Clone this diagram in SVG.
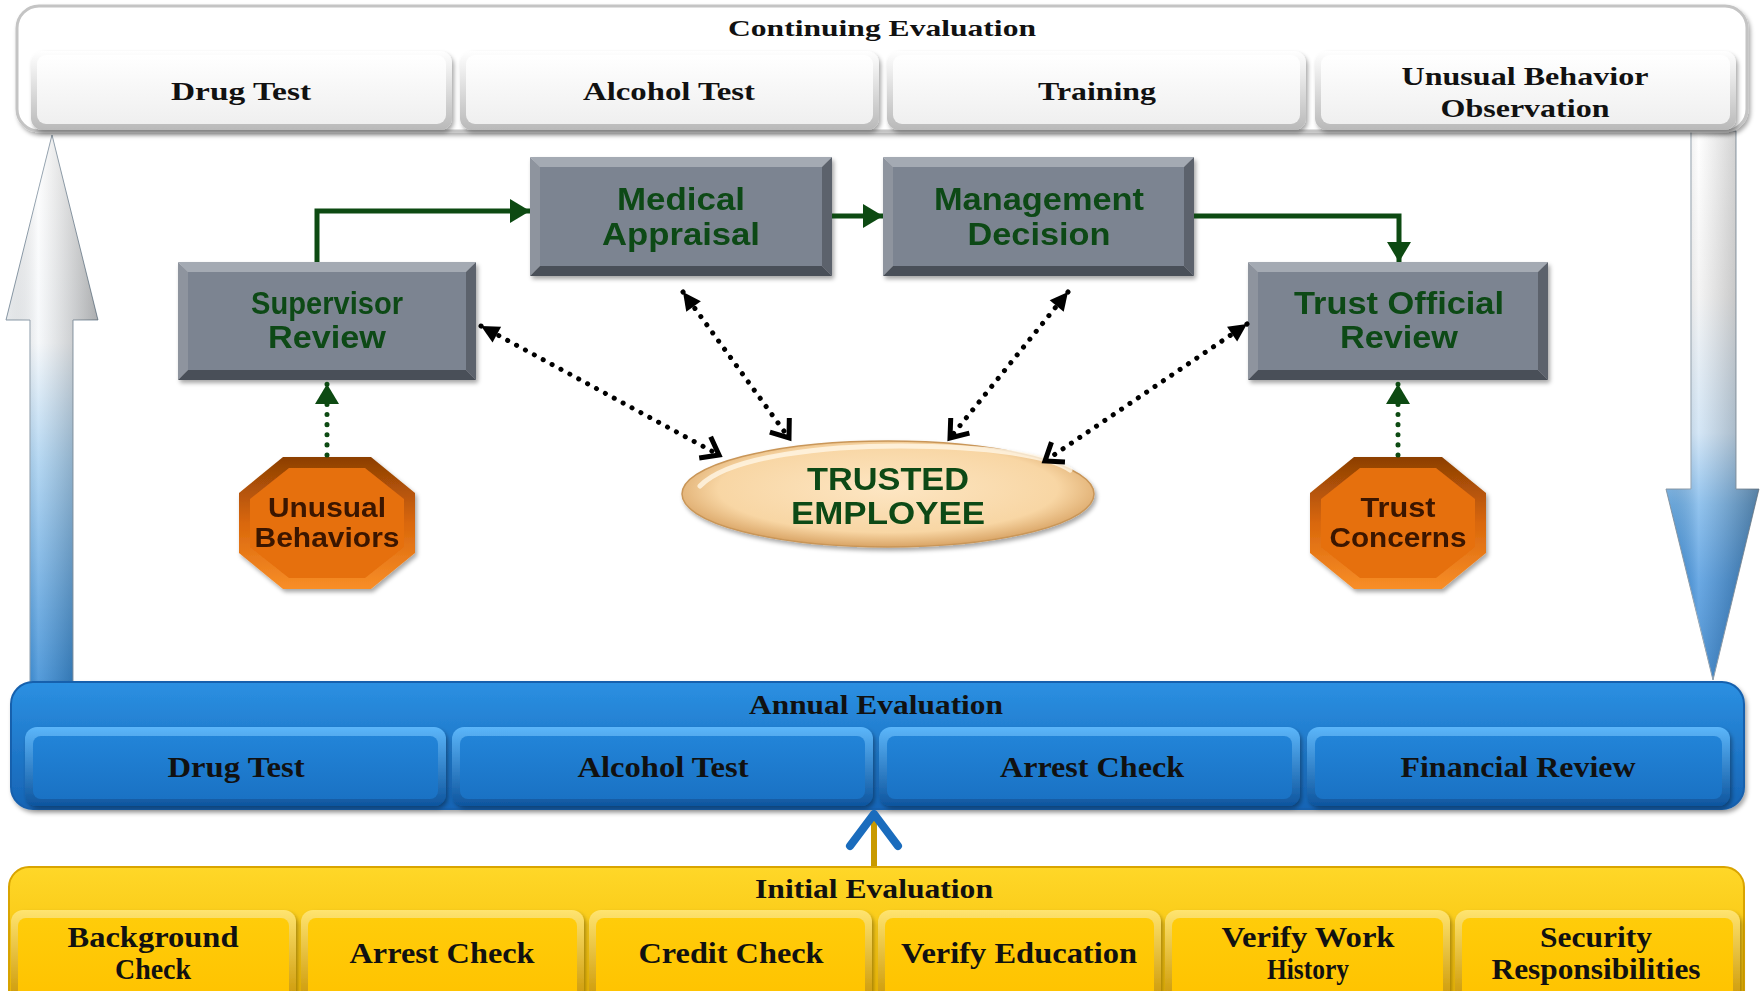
<svg xmlns="http://www.w3.org/2000/svg" width="1762" height="991" viewBox="0 0 1762 991">
  <style>
    .serif { font-family: "Liberation Serif", "Times New Roman", serif; font-weight: bold; fill: #111; text-anchor: middle; dominant-baseline: central; }
    .node { font-family: "Liberation Sans", Arial, sans-serif; font-weight: bold; fill: #0d4a14; text-anchor: middle; dominant-baseline: central; font-size: 31px; }
    .oct { font-family: "Liberation Sans", Arial, sans-serif; font-weight: bold; fill: #3a1500; text-anchor: middle; dominant-baseline: central; font-size: 27px; }
    .flow { fill: none; stroke: #0d4a12; stroke-width: 5; }
    .gdots { fill: none; stroke: #0d4a12; stroke-width: 5; stroke-dasharray: 0.1 10; stroke-linecap: round; }
    .kdots { fill: none; stroke: #000; stroke-width: 5; stroke-dasharray: 0.1 10; stroke-linecap: round; }
  </style>
  <defs>
    <filter id="shadow" x="-10%" y="-10%" width="120%" height="130%">
      <feDropShadow dx="2" dy="3" stdDeviation="2" flood-color="#000" flood-opacity="0.35"/>
    </filter>
    <linearGradient id="gWhiteFrame" x1="0" y1="0" x2="0" y2="1">
      <stop offset="0" stop-color="#ffffff"/><stop offset="1" stop-color="#b9b9b9"/>
    </linearGradient>
    <linearGradient id="gWhiteFace" x1="0" y1="0" x2="0" y2="1">
      <stop offset="0" stop-color="#ffffff"/><stop offset="1" stop-color="#efefef"/>
    </linearGradient>
    <linearGradient id="gBlueBand" x1="0" y1="0" x2="0" y2="1">
      <stop offset="0" stop-color="#2b90e2"/><stop offset="1" stop-color="#1664b5"/>
    </linearGradient>
    <linearGradient id="gBlueFrame" x1="0" y1="0" x2="0" y2="1">
      <stop offset="0" stop-color="#5cb6fa"/><stop offset="1" stop-color="#0e559e"/>
    </linearGradient>
    <linearGradient id="gBlueFace" x1="0" y1="0" x2="0" y2="1">
      <stop offset="0" stop-color="#2284d8"/><stop offset="1" stop-color="#1a72c4"/>
    </linearGradient>
    <linearGradient id="gYellowBand" x1="0" y1="0" x2="0" y2="1">
      <stop offset="0" stop-color="#ffd728"/><stop offset="1" stop-color="#f2b900"/>
    </linearGradient>
    <linearGradient id="gYellowFrame" x1="0" y1="0" x2="0" y2="1">
      <stop offset="0" stop-color="#ffe470"/><stop offset="1" stop-color="#c99400"/>
    </linearGradient>
    <linearGradient id="gYellowFace" x1="0" y1="0" x2="0" y2="1">
      <stop offset="0" stop-color="#ffcc0a"/><stop offset="1" stop-color="#ffc300"/>
    </linearGradient>
    <linearGradient id="gUpArrow" gradientUnits="userSpaceOnUse" x1="0" y1="135" x2="0" y2="682">
      <stop offset="0" stop-color="#ffffff"/><stop offset="0.38" stop-color="#f3f6f9"/>
      <stop offset="0.6" stop-color="#9ccaee"/><stop offset="1" stop-color="#1c7bcf"/>
    </linearGradient>
    <linearGradient id="gDownArrow" gradientUnits="userSpaceOnUse" x1="0" y1="131" x2="0" y2="680">
      <stop offset="0" stop-color="#ffffff"/><stop offset="0.3" stop-color="#f0f0f0"/>
      <stop offset="0.55" stop-color="#c6def3"/><stop offset="0.68" stop-color="#6fb0e8"/>
      <stop offset="0.82" stop-color="#3a8ddb"/><stop offset="1" stop-color="#176fc2"/>
    </linearGradient>
    <linearGradient id="gSideShade" x1="0" y1="0" x2="1" y2="0">
      <stop offset="0" stop-color="#000" stop-opacity="0.05"/>
      <stop offset="0.35" stop-color="#fff" stop-opacity="0.25"/>
      <stop offset="1" stop-color="#000" stop-opacity="0.3"/>
    </linearGradient>
    <linearGradient id="gOctFrame" x1="0" y1="0" x2="0" y2="1">
      <stop offset="0" stop-color="#8c3f04"/><stop offset="0.5" stop-color="#d9670b"/>
      <stop offset="1" stop-color="#f88e28"/>
    </linearGradient>
    <radialGradient id="gEllipse" cx="0.5" cy="0.45" r="0.55">
      <stop offset="0" stop-color="#fde6c3"/><stop offset="0.75" stop-color="#f8d6a4"/>
      <stop offset="1" stop-color="#d9a465"/>
    </radialGradient>
    <marker id="triG" viewBox="-20 -12 22 24" refX="0" refY="0" markerWidth="22" markerHeight="24" markerUnits="userSpaceOnUse" orient="auto" overflow="visible">
      <path d="M-20,-12 L0,0 L-20,12 Z" fill="#0d4a12"/>
    </marker>
    <marker id="triK" viewBox="-20 -10 22 20" refX="0" refY="0" markerWidth="22" markerHeight="20" markerUnits="userSpaceOnUse" orient="auto-start-reverse" overflow="visible">
      <path d="M-18,-9 L0,0 L-18,9 Z" fill="#000"/>
    </marker>
    <marker id="chevK" viewBox="-20 -14 22 28" refX="0" refY="0" markerWidth="22" markerHeight="28" markerUnits="userSpaceOnUse" orient="auto" overflow="visible">
      <path d="M-16,-12 L0,0 L-16,12" fill="none" stroke="#000" stroke-width="5"/>
    </marker>
  </defs>

  <rect x="0" y="0" width="1762" height="991" fill="#ffffff"/>

  <!-- big cycle arrows at the sides -->
  <g id="cycle-up">
    <path d="M30,682 V320 H6 L52,135 L98,320 H73 V682 Z" fill="url(#gUpArrow)" stroke="#8a9aa8" stroke-width="1"/>
    <path d="M30,682 V320 H6 L52,135 L98,320 H73 V682 Z" fill="url(#gSideShade)"/>
  </g>
  <g id="cycle-down">
    <path d="M1691,131 V489 H1666 L1713,680 L1759,489 H1736 V131 Z" fill="url(#gDownArrow)" stroke="#8a9aa8" stroke-width="1"/>
    <path d="M1691,131 V489 H1666 L1713,680 L1759,489 H1736 V131 Z" fill="url(#gSideShade)"/>
  </g>

  <!-- Continuing Evaluation -->
  <g id="continuing">
    <rect x="17" y="6" width="1730" height="125" rx="22" fill="#ffffff" stroke="#c4c4c4" stroke-width="3" filter="url(#shadow)"/>
    <text class="serif" x="882" y="28" font-size="23" textLength="308" lengthAdjust="spacingAndGlyphs">Continuing Evaluation</text>
    <g id="ce-drug">
      <rect x="31" y="51" width="421" height="79" rx="12" fill="url(#gWhiteFrame)" filter="url(#shadow)"/>
      <rect x="37" y="55" width="409" height="69" rx="9" fill="url(#gWhiteFace)"/>
      <text class="serif" x="241" y="91" font-size="25" textLength="140" lengthAdjust="spacingAndGlyphs">Drug Test</text>
    </g>
    <g id="ce-alcohol">
      <rect x="460" y="51" width="419" height="79" rx="12" fill="url(#gWhiteFrame)" filter="url(#shadow)"/>
      <rect x="466" y="55" width="407" height="69" rx="9" fill="url(#gWhiteFace)"/>
      <text class="serif" x="669" y="91" font-size="25" textLength="172" lengthAdjust="spacingAndGlyphs">Alcohol Test</text>
    </g>
    <g id="ce-training">
      <rect x="887" y="51" width="419" height="79" rx="12" fill="url(#gWhiteFrame)" filter="url(#shadow)"/>
      <rect x="893" y="55" width="407" height="69" rx="9" fill="url(#gWhiteFace)"/>
      <text class="serif" x="1097" y="91" font-size="25" textLength="118" lengthAdjust="spacingAndGlyphs">Training</text>
    </g>
    <g id="ce-behavior">
      <rect x="1315" y="51" width="421" height="79" rx="12" fill="url(#gWhiteFrame)" filter="url(#shadow)"/>
      <rect x="1321" y="55" width="409" height="69" rx="9" fill="url(#gWhiteFace)"/>
      <text class="serif" x="1525" y="76" font-size="25" textLength="247" lengthAdjust="spacingAndGlyphs">Unusual Behavior</text>
      <text class="serif" x="1525" y="108" font-size="25" textLength="169" lengthAdjust="spacingAndGlyphs">Observation</text>
    </g>
  </g>

  <!-- Annual Evaluation -->
  <g id="annual">
    <rect x="11" y="682" width="1733" height="127" rx="22" fill="url(#gBlueBand)" stroke="#1560ad" stroke-width="2" filter="url(#shadow)"/>
    <text class="serif" x="876" y="705" font-size="27" textLength="254" lengthAdjust="spacingAndGlyphs">Annual Evaluation</text>
    <g id="ae-drug">
      <rect x="25" y="727" width="421" height="79" rx="12" fill="url(#gBlueFrame)" filter="url(#shadow)"/>
      <rect x="33" y="736" width="405" height="63" rx="8" fill="url(#gBlueFace)"/>
      <text class="serif" x="236" y="766" font-size="30" textLength="137" lengthAdjust="spacingAndGlyphs">Drug Test</text>
    </g>
    <g id="ae-alcohol">
      <rect x="452" y="727" width="421" height="79" rx="12" fill="url(#gBlueFrame)" filter="url(#shadow)"/>
      <rect x="460" y="736" width="405" height="63" rx="8" fill="url(#gBlueFace)"/>
      <text class="serif" x="663" y="766" font-size="30" textLength="171" lengthAdjust="spacingAndGlyphs">Alcohol Test</text>
    </g>
    <g id="ae-arrest">
      <rect x="879" y="727" width="421" height="79" rx="12" fill="url(#gBlueFrame)" filter="url(#shadow)"/>
      <rect x="887" y="736" width="405" height="63" rx="8" fill="url(#gBlueFace)"/>
      <text class="serif" x="1092" y="766" font-size="30" textLength="184" lengthAdjust="spacingAndGlyphs">Arrest Check</text>
    </g>
    <g id="ae-financial">
      <rect x="1307" y="727" width="423" height="79" rx="12" fill="url(#gBlueFrame)" filter="url(#shadow)"/>
      <rect x="1315" y="736" width="407" height="63" rx="8" fill="url(#gBlueFace)"/>
      <text class="serif" x="1518" y="766" font-size="30" textLength="235" lengthAdjust="spacingAndGlyphs">Financial Review</text>
    </g>
  </g>

  <!-- Initial Evaluation -->
  <g id="initial">
    <rect x="9" y="867" width="1735" height="150" rx="20" fill="url(#gYellowBand)" stroke="#d9a400" stroke-width="2"/>
    <text class="serif" x="874" y="889" font-size="27" textLength="238" lengthAdjust="spacingAndGlyphs">Initial Evaluation</text>
    <g id="ie-background">
      <rect x="11" y="910" width="285" height="95" rx="12" fill="url(#gYellowFrame)" filter="url(#shadow)"/>
      <rect x="18" y="918" width="271" height="80" rx="8" fill="url(#gYellowFace)"/>
      <text class="serif" x="153" y="936" font-size="30" textLength="171" lengthAdjust="spacingAndGlyphs">Background</text>
      <text class="serif" x="153" y="968" font-size="30" textLength="76" lengthAdjust="spacingAndGlyphs">Check</text>
    </g>
    <g id="ie-arrest">
      <rect x="301" y="910" width="283" height="95" rx="12" fill="url(#gYellowFrame)" filter="url(#shadow)"/>
      <rect x="308" y="918" width="269" height="80" rx="8" fill="url(#gYellowFace)"/>
      <text class="serif" x="442" y="952" font-size="30" textLength="185" lengthAdjust="spacingAndGlyphs">Arrest Check</text>
    </g>
    <g id="ie-credit">
      <rect x="589" y="910" width="283" height="95" rx="12" fill="url(#gYellowFrame)" filter="url(#shadow)"/>
      <rect x="596" y="918" width="269" height="80" rx="8" fill="url(#gYellowFace)"/>
      <text class="serif" x="731" y="952" font-size="30" textLength="185" lengthAdjust="spacingAndGlyphs">Credit Check</text>
    </g>
    <g id="ie-education">
      <rect x="878" y="910" width="283" height="95" rx="12" fill="url(#gYellowFrame)" filter="url(#shadow)"/>
      <rect x="885" y="918" width="269" height="80" rx="8" fill="url(#gYellowFace)"/>
      <text class="serif" x="1019" y="952" font-size="30" textLength="236" lengthAdjust="spacingAndGlyphs">Verify Education</text>
    </g>
    <g id="ie-work">
      <rect x="1165" y="910" width="285" height="95" rx="12" fill="url(#gYellowFrame)" filter="url(#shadow)"/>
      <rect x="1172" y="918" width="271" height="80" rx="8" fill="url(#gYellowFace)"/>
      <text class="serif" x="1308" y="936" font-size="30" textLength="173" lengthAdjust="spacingAndGlyphs">Verify Work</text>
      <text class="serif" x="1308" y="968" font-size="30" textLength="82" lengthAdjust="spacingAndGlyphs">History</text>
    </g>
    <g id="ie-security">
      <rect x="1455" y="910" width="285" height="95" rx="12" fill="url(#gYellowFrame)" filter="url(#shadow)"/>
      <rect x="1462" y="918" width="271" height="80" rx="8" fill="url(#gYellowFace)"/>
      <text class="serif" x="1596" y="936" font-size="30" textLength="112" lengthAdjust="spacingAndGlyphs">Security</text>
      <text class="serif" x="1596" y="968" font-size="30" textLength="209" lengthAdjust="spacingAndGlyphs">Responsibilities</text>
    </g>
  </g>

  <!-- small arrow from Initial up to Annual -->
  <g id="initial-to-annual">
    <line x1="874" y1="866" x2="874" y2="820" stroke="#c99a00" stroke-width="6"/>
    <path d="M850,846 L874,814 L898,846" fill="none" stroke="#1a6cbd" stroke-width="8" stroke-linecap="round" stroke-linejoin="round"/>
  </g>

  <!-- process boxes -->
  <g id="supervisor-review" filter="url(#shadow)">
    <polygon points="178,262 476,262 466,272 188,272" fill="#a4aab3"/>
    <polygon points="178,262 188,272 188,370 178,380" fill="#8e949e"/>
    <polygon points="476,262 476,380 466,370 466,272" fill="#5c626c"/>
    <polygon points="178,380 188,370 466,370 476,380" fill="#4a4f58"/>
    <rect x="188" y="272" width="278" height="98" fill="#7c8491"/>
    <text class="node" x="327" y="303" textLength="152" lengthAdjust="spacingAndGlyphs">Supervisor</text>
    <text class="node" x="327" y="337" textLength="118" lengthAdjust="spacingAndGlyphs">Review</text>
  </g>
  <g id="medical-appraisal" filter="url(#shadow)">
    <polygon points="530,157 832,157 822,167 540,167" fill="#a4aab3"/>
    <polygon points="530,157 540,167 540,266 530,276" fill="#8e949e"/>
    <polygon points="832,157 832,276 822,266 822,167" fill="#5c626c"/>
    <polygon points="530,276 540,266 822,266 832,276" fill="#4a4f58"/>
    <rect x="540" y="167" width="282" height="99" fill="#7c8491"/>
    <text class="node" x="681" y="199" textLength="128" lengthAdjust="spacingAndGlyphs">Medical</text>
    <text class="node" x="681" y="234" textLength="158" lengthAdjust="spacingAndGlyphs">Appraisal</text>
  </g>
  <g id="management-decision" filter="url(#shadow)">
    <polygon points="883,157 1194,157 1184,167 893,167" fill="#a4aab3"/>
    <polygon points="883,157 893,167 893,266 883,276" fill="#8e949e"/>
    <polygon points="1194,157 1194,276 1184,266 1184,167" fill="#5c626c"/>
    <polygon points="883,276 893,266 1184,266 1194,276" fill="#4a4f58"/>
    <rect x="893" y="167" width="291" height="99" fill="#7c8491"/>
    <text class="node" x="1039" y="199" textLength="210" lengthAdjust="spacingAndGlyphs">Management</text>
    <text class="node" x="1039" y="234" textLength="143" lengthAdjust="spacingAndGlyphs">Decision</text>
  </g>
  <g id="trust-official-review" filter="url(#shadow)">
    <polygon points="1248,262 1548,262 1538,272 1258,272" fill="#a4aab3"/>
    <polygon points="1248,262 1258,272 1258,370 1248,380" fill="#8e949e"/>
    <polygon points="1548,262 1548,380 1538,370 1538,272" fill="#5c626c"/>
    <polygon points="1248,380 1258,370 1538,370 1548,380" fill="#4a4f58"/>
    <rect x="1258" y="272" width="280" height="98" fill="#7c8491"/>
    <text class="node" x="1399" y="303" textLength="210" lengthAdjust="spacingAndGlyphs">Trust Official</text>
    <text class="node" x="1399" y="337" textLength="118" lengthAdjust="spacingAndGlyphs">Review</text>
  </g>

  <!-- trigger octagons -->
  <g id="unusual-behaviors" filter="url(#shadow)">
    <polygon points="283,457 371,457 415,493 415,553 371,589 283,589 239,553 239,493" fill="url(#gOctFrame)"/>
    <polygon points="289,468 365,468 404,499 404,547 365,578 289,578 250,547 250,499" fill="#e66f0c"/>
    <text class="oct" x="327" y="508" textLength="118" lengthAdjust="spacingAndGlyphs">Unusual</text>
    <text class="oct" x="327" y="538" textLength="145" lengthAdjust="spacingAndGlyphs">Behaviors</text>
  </g>
  <g id="trust-concerns" filter="url(#shadow)">
    <polygon points="1354,457 1442,457 1486,493 1486,553 1442,589 1354,589 1310,553 1310,493" fill="url(#gOctFrame)"/>
    <polygon points="1360,468 1436,468 1475,499 1475,547 1436,578 1360,578 1321,547 1321,499" fill="#e66f0c"/>
    <text class="oct" x="1398" y="508" textLength="75" lengthAdjust="spacingAndGlyphs">Trust</text>
    <text class="oct" x="1398" y="538" textLength="137" lengthAdjust="spacingAndGlyphs">Concerns</text>
  </g>

  <!-- central ellipse -->
  <g id="trusted-employee" filter="url(#shadow)">
    <ellipse cx="888" cy="494" rx="206" ry="53" fill="url(#gEllipse)" stroke="#c99658" stroke-width="1.5"/>
    <path d="M700,486 C730,455 830,446 900,446 C990,446 1050,456 1070,470" fill="none" stroke="#fff6e6" stroke-width="5" stroke-linecap="round" opacity="0.8"/>
    <text class="node" x="888" y="479" textLength="162" lengthAdjust="spacingAndGlyphs">TRUSTED</text>
    <text class="node" x="888" y="513" textLength="194" lengthAdjust="spacingAndGlyphs">EMPLOYEE</text>
  </g>

  <!-- connectors -->
  <g id="connectors">
    <path class="flow" d="M317,262 V211 H530" marker-end="url(#triG)"/>
    <path class="flow" d="M832,216 H883" marker-end="url(#triG)"/>
    <path class="flow" d="M1194,216 H1399 V262" marker-end="url(#triG)"/>
    <path class="gdots" d="M327,455 V384" marker-end="url(#triG)"/>
    <path class="gdots" d="M1398,455 V384" marker-end="url(#triG)"/>
    <path class="kdots" d="M481,326 L719,455" marker-start="url(#triK)" marker-end="url(#chevK)"/>
    <path class="kdots" d="M683,292 L789,438" marker-start="url(#triK)" marker-end="url(#chevK)"/>
    <path class="kdots" d="M1068,292 L950,438" marker-start="url(#triK)" marker-end="url(#chevK)"/>
    <path class="kdots" d="M1247,324 L1045,461" marker-start="url(#triK)" marker-end="url(#chevK)"/>
  </g>
</svg>
